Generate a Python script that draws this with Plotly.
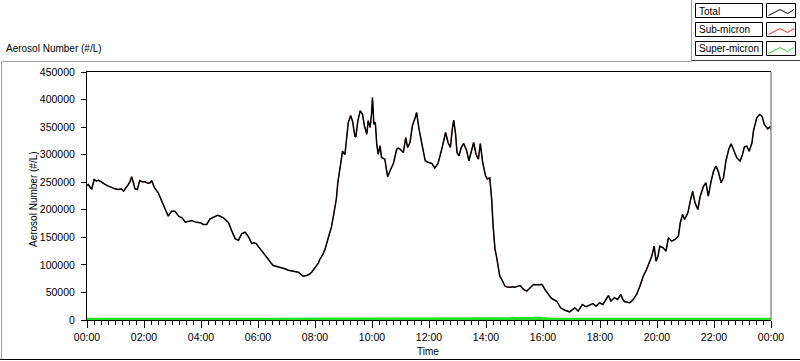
import plotly.graph_objects as go

# ---------------- data ----------------
total_times = [
    "00:00", "00:03", "00:07", "00:10", "00:15", "00:20", "00:24", "00:31", "00:38", "00:45",
    "00:52", "00:59", "01:06", "01:12", "01:17", "01:24", "01:27", "01:31", "01:34", "01:38",
    "01:41", "01:46", "01:51", "01:56", "02:02", "02:08", "02:13", "02:16", "02:22", "02:30",
    "02:37", "02:44", "02:51", "02:58", "03:05", "03:13", "03:20", "03:27", "03:33", "03:40",
    "03:47", "03:54", "04:00", "04:05", "04:12", "04:19", "04:25", "04:30", "04:35", "04:40",
    "04:47", "04:53", "04:58", "05:05", "05:12", "05:19", "05:26", "05:33", "05:40", "05:47",
    "05:52", "05:56", "06:04", "06:11", "06:17", "06:22", "06:27", "06:32", "06:38", "06:43",
    "06:48", "06:53", "06:58", "07:04", "07:09", "07:14", "07:20", "07:25", "07:30", "07:35",
    "07:42", "07:48", "07:53", "07:58", "08:03", "08:07", "08:10", "08:16", "08:21", "08:28",
    "08:35", "08:40", "08:45", "08:48", "08:51", "08:54", "08:58", "09:03", "09:07", "09:10",
    "09:15", "09:19", "09:24", "09:26", "09:30", "09:35", "09:40", "09:44", "09:49", "09:52",
    "09:56", "09:59", "10:01", "10:04", "10:07", "10:10", "10:13", "10:17", "10:20", "10:24",
    "10:27", "10:30", "10:33", "10:38", "10:45", "10:52", "10:55", "10:59", "11:06", "11:11",
    "11:15", "11:20", "11:25", "11:31", "11:34", "11:39", "11:45", "11:52", "11:59", "12:06",
    "12:12", "12:19", "12:26", "12:31", "12:35", "12:40", "12:45", "12:49", "12:52", "12:56",
    "12:59", "13:03", "13:08", "13:13", "13:19", "13:24", "13:29", "13:34", "13:39", "13:44",
    "13:48", "13:53", "13:59", "14:03", "14:08", "14:12", "14:15", "14:19", "14:22", "14:26",
    "14:29", "14:35", "14:40", "14:45", "14:51", "14:56", "15:01", "15:06", "15:12", "15:19",
    "15:26", "15:33", "15:40", "15:45", "15:51", "15:58", "16:05", "16:12", "16:17", "16:22",
    "16:29", "16:37", "16:46", "16:56", "17:02", "17:07", "17:14", "17:23", "17:31", "17:38",
    "17:45", "17:52", "17:59", "18:06", "18:13", "18:18", "18:23", "18:30", "18:37", "18:44",
    "18:48", "18:52", "18:58", "19:03", "19:10", "19:17", "19:24", "19:31", "19:38", "19:43",
    "19:49", "19:54", "19:58", "20:02", "20:06", "20:13", "20:19", "20:24", "20:31", "20:38",
    "20:45", "20:49", "20:54", "20:58", "21:05", "21:10", "21:15", "21:20", "21:26", "21:31",
    "21:38", "21:43", "21:48", "21:54", "21:59", "22:04", "22:09", "22:15", "22:20", "22:25",
    "22:31", "22:36", "22:41", "22:48", "22:55", "23:00", "23:04", "23:09", "23:14", "23:20",
    "23:23", "23:30", "23:36", "23:41", "23:46", "23:53", "23:58", "24:00",
]
total_number = [
    244000, 245900, 240000, 238000, 255000, 252000, 253700, 249000, 246000, 243000,
    240000, 238000, 236800, 238000, 233700, 241700, 245900, 252000, 259800, 248000,
    238000, 236800, 253000, 251000, 250700, 248000, 249000, 253000, 240000, 230800,
    215600, 200500, 188400, 197400, 197400, 188400, 185400, 177500, 179000, 180500,
    178000, 177500, 176000, 173300, 173300, 183600, 186000, 188400, 190000, 188400,
    185400, 181000, 176400, 161200, 147300, 144800, 157000, 159300, 151000, 138800,
    140000, 138800, 129200, 121900, 115000, 109800, 104000, 98900, 97500, 96500,
    95500, 94700, 92500, 90400, 89500, 88600, 88000, 86700, 83000, 79500,
    80700, 83000, 86700, 92000, 97600, 103000, 109800, 118000, 127900, 149200,
    170200, 195000, 220000, 249000, 267100, 285000, 306300, 300300, 339700, 357800,
    371100, 360700, 333500, 332000, 360000, 379600, 373400, 352400, 337100, 361400,
    349300, 373400, 403700, 355300, 358400, 319000, 300800, 316100, 294900, 293000,
    291800, 275000, 259800, 270700, 284000, 309900, 312000, 309900, 303900, 331100,
    313000, 322100, 352400, 367400, 376500, 346200, 316100, 288900, 285800, 284000,
    275400, 284000, 307000, 328100, 340200, 322100, 313000, 346200, 362600, 337100,
    303900, 297900, 313000, 320300, 308200, 288900, 303900, 322100, 300800, 291800,
    320300, 285800, 261700, 256000, 258000, 218600, 170200, 127900, 115800, 97600,
    79500, 70400, 61300, 60000, 59500, 60500, 59500, 61000, 62600, 55300,
    52300, 58400, 64400, 63800, 64400, 64400, 54100, 44500, 40000, 37200,
    34100, 22100, 17800, 14900, 18000, 22100, 16000, 28100, 24000, 26300,
    29900, 25000, 31200, 28100, 37200, 44500, 34100, 40300, 37200, 46300,
    37200, 33000, 32000, 31200, 37200, 46300, 61300, 79500, 91600, 103800,
    115800, 133900, 106700, 115800, 133900, 131000, 124800, 149200, 143000, 146100,
    152100, 176400, 191400, 182400, 194500, 215600, 233700, 212700, 200500, 224600,
    242800, 249000, 224600, 251900, 270000, 279100, 270000, 249000, 258000, 288100,
    309400, 319700, 309400, 294300, 288100, 300300, 314300, 315400, 306300, 321500,
    342600, 366900, 372900, 369800, 354700, 346900, 350600, 345000,
]
# sub-micron follows the total curve (differences are below one pixel)
sub_micron_number = list(total_number)

super_times = [
    "00:00", "03:10", "03:11", "03:12", "14:40", "14:45", "14:50", "14:55", "15:00", "15:05",
    "15:10", "15:15", "15:20", "15:25", "15:30", "15:35", "15:40", "15:45", "15:50", "15:55",
    "16:00", "16:05", "16:10", "16:15", "24:00",
]
super_micron_number = [
    300, 300, 1600, 300, 400, 1800, 1200, 2200, 1500, 2400,
    1300, 2000, 1600, 2300, 1400, 2100, 1700, 2500, 1500, 2200,
    1800, 2300, 1400, 600, 300,
]

y_ticks = [0, 50000, 100000, 150000, 200000, 250000, 300000, 350000, 400000, 450000]


def to_dt(hhmm):
    h, m = hhmm.split(":")
    h = int(h)
    if h >= 24:
        return "2000-01-02 %02d:%s" % (h - 24, m)
    return "2000-01-01 %02d:%s" % (h, m)


tx = [to_dt(t) for t in total_times]
sx = [to_dt(t) for t in super_times]

# ---------------- geometry ----------------
W, H = 800, 361
L, R, T, B = 87, 29, 72, 41
PW, PH = W - L - R, H - T - B


def pxx(x):
    return (x - L) / PW


def pyy(y):
    return (H - B - y) / PH


FONT = "Liberation Sans"

fig = go.Figure()
fig.add_trace(go.Scatter(x=tx, y=sub_micron_number, mode="lines", name="Sub-micron",
                         line=dict(color="#ff2020", width=0.8)))
fig.add_trace(go.Scatter(x=tx, y=total_number, mode="lines", name="Total",
                         line=dict(color="#000000", width=1.5)))
fig.add_trace(go.Scatter(x=sx, y=super_micron_number, mode="lines", name="Super-micron",
                         line=dict(color="#22e022", width=4)))

shapes = []
# outer panel frame
shapes.append(dict(type="line", xref="paper", yref="paper", x0=pxx(1.5), x1=pxx(691.5),
                   y0=pyy(61.5), y1=pyy(61.5), line=dict(color="#a0a0a0", width=1)))
shapes.append(dict(type="line", xref="paper", yref="paper", x0=pxx(1.5), x1=pxx(1.5),
                   y0=pyy(61.5), y1=pyy(359.5), line=dict(color="#a0a0a0", width=1)))
shapes.append(dict(type="line", xref="paper", yref="paper", x0=pxx(0), x1=pxx(800),
                   y0=pyy(359.5), y1=pyy(359.5), line=dict(color="#000000", width=1)))
# legend frame
shapes.append(dict(type="line", xref="paper", yref="paper", x0=pxx(691.5), x1=pxx(691.5),
                   y0=pyy(0), y1=pyy(61), line=dict(color="#a0a0a0", width=1)))
shapes.append(dict(type="line", xref="paper", yref="paper", x0=pxx(691.5), x1=pxx(800),
                   y0=pyy(60.5), y1=pyy(60.5), line=dict(color="#404040", width=1)))
# plot right border (grey)
shapes.append(dict(type="line", xref="paper", yref="paper", x0=1, x1=1, y0=0, y1=1,
                   line=dict(color="#909090", width=1.5)))

legend_items = [("Total", "#000000", 3.5), ("Sub-micron", "#ff2020", 22.5), ("Super-micron", "#22e022", 41.5)]
annotations = []
for name, col, ytop in legend_items:
    ybot = ytop + 14
    shapes.append(dict(type="rect", xref="paper", yref="paper", x0=pxx(695.5), x1=pxx(762.5),
                       y0=pyy(ybot), y1=pyy(ytop), line=dict(color="#000000", width=1),
                       fillcolor="white"))
    shapes.append(dict(type="rect", xref="paper", yref="paper", x0=pxx(766.5), x1=pxx(795.5),
                       y0=pyy(ybot), y1=pyy(ytop), line=dict(color="#000000", width=1),
                       fillcolor="white"))
    pts = [(768.5, ytop + 12), (780, ytop + 6), (787.5, ytop + 10), (794, ytop + 6)]
    path = "M " + " L ".join("%f,%f" % (pxx(a), pyy(b)) for a, b in pts)
    shapes.append(dict(type="path", xref="paper", yref="paper", path=path,
                       line=dict(color=col, width=1)))
    annotations.append(dict(x=pxx(697), y=pyy(ytop + 7.5), xref="paper", yref="paper",
                            text=name, showarrow=False, xanchor="left", yanchor="middle",
                            font=dict(family=FONT, size=10, color="black")))

annotations.append(dict(x=pxx(4), y=pyy(48), xref="paper", yref="paper",
                        text="Aerosol Number (#/L)", showarrow=False, xanchor="left",
                        yanchor="middle", font=dict(family=FONT, size=10, color="black")))
annotations.append(dict(x=pxx(33), y=pyy(199), xref="paper", yref="paper",
                        text="Aerosol Number (#/L)", showarrow=False, textangle=-90,
                        xanchor="center", yanchor="middle",
                        font=dict(family=FONT, size=10, color="black")))
annotations.append(dict(x=pxx(428), y=pyy(351), xref="paper", yref="paper",
                        text="Time", showarrow=False, xanchor="center", yanchor="middle",
                        font=dict(family=FONT, size=10, color="black")))

fig.update_layout(
    width=W, height=H,
    margin=dict(l=L, r=R, t=T, b=B, pad=0),
    paper_bgcolor="white", plot_bgcolor="white",
    showlegend=False,
    shapes=shapes, annotations=annotations,
    font=dict(family=FONT, size=10, color="black"),
)
fig.update_xaxes(
    type="date", range=["2000-01-01 00:00", "2000-01-02 00:00"],
    tickformat="%H:%M", dtick=2 * 3600 * 1000, tick0="2000-01-01 00:00",
    ticks="outside", ticklen=7, tickcolor="black", tickwidth=1,
    minor=dict(dtick=15 * 60 * 1000, ticks="outside", ticklen=4, tickcolor="black",
               showgrid=False),
    showgrid=False, zeroline=False, showline=True, linecolor="black", linewidth=1,
    mirror=True, layer="below traces",
    tickfont=dict(family=FONT, size=10.5, color="black"),
)
fig.update_yaxes(
    range=[0, 450000], tickvals=y_ticks, tickformat="d",
    ticks="outside", ticklen=5, tickcolor="black", tickwidth=1,
    showgrid=False, zeroline=False, showline=True, linecolor="black", linewidth=1,
    ticklabelstandoff=4,
    tickfont=dict(family=FONT, size=10.5, color="black"),
)

fig.write_html("out.html", config={"displayModeBar": False},
               post_script="document.body.style.margin='0';document.body.style.overflow='hidden';")
